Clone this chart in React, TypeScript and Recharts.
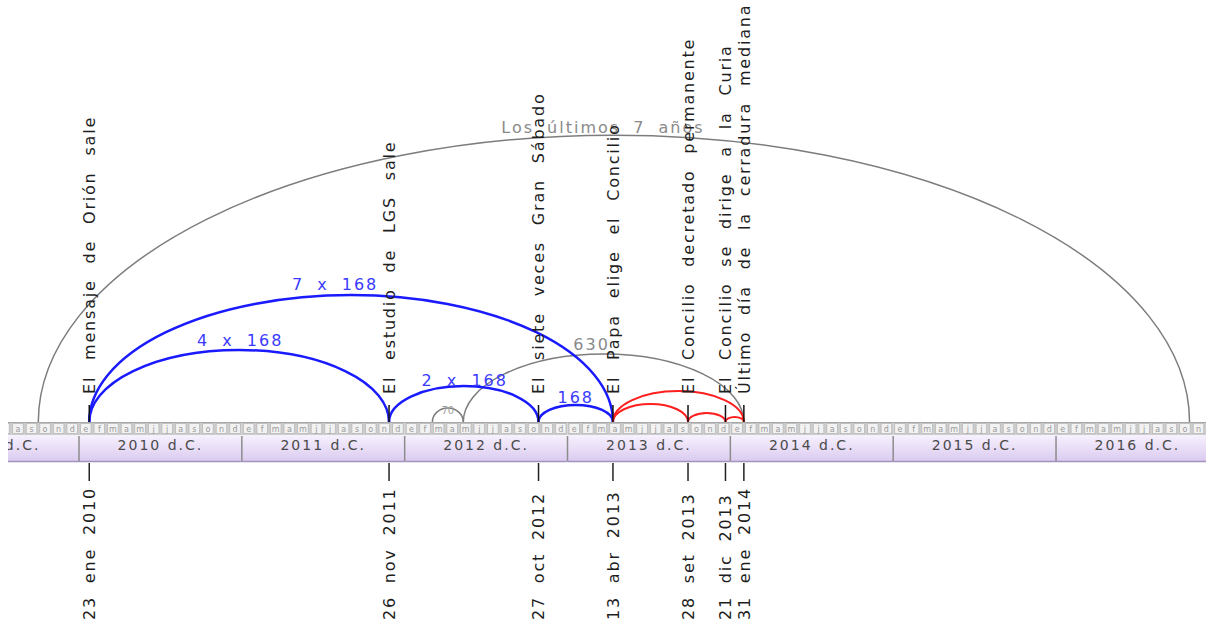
import React from 'react';
import { ComposedChart, ReferenceArea, ReferenceLine, Scatter, XAxis, YAxis } from 'recharts';

// years shown on the timeline band
const yearStarts = [2009, 2010, 2011, 2012, 2013, 2014, 2015, 2016];
const yearNames = ['2009 d.C.', '2010 d.C.', '2011 d.C.', '2012 d.C.', '2013 d.C.', '2014 d.C.', '2015 d.C.', '2016 d.C.'];
const monthInitials = ['e', 'f', 'm', 'a', 'm', 'j', 'j', 'a', 's', 'o', 'n', 'd'];

// events (decimal years)
const eventDates = [2010.063, 2011.904, 2012.822, 2013.279, 2013.74, 2013.97, 2014.083];
const eventTitles = [
  'El mensaje de Orión sale',
  'El estudio de LGS sale',
  'El siete veces Gran Sábado',
  'El Papa elige el Concilio',
  'El Concilio decretado permanente',
  'El Concilio se dirige a la Curia',
  'Último día de la cerradura mediana',
];
const eventDayLabels = ['23 ene 2010', '26 nov 2011', '27 oct 2012', '13 abr 2013', '28 set 2013', '21 dic 2013', '31 ene 2014'];

// arcs: from / to in decimal years, rise = height above the band
const greyArcs = [
  { from: 2009.75, to: 2016.82, rise: 287, label: 'Los últimos 7 años' },
  { from: 2012.36, to: 2014.083, rise: 68, label: '630' },
  { from: 2012.17, to: 2012.36, rise: 14, label: '70' },
];
const blueArcs = [
  { from: 2010.063, to: 2013.279, rise: 127, label: '7 x 168' },
  { from: 2010.063, to: 2011.904, rise: 72, label: '4 x 168' },
  { from: 2011.904, to: 2012.822, rise: 36, label: '2 x 168' },
  { from: 2012.822, to: 2013.279, rise: 17, label: '168' },
];
const redArcs = [
  { from: 2013.279, to: 2014.083, rise: 31, label: '' },
  { from: 2013.279, to: 2013.74, rise: 18, label: '' },
  { from: 2013.74, to: 2013.97, rise: 9, label: '' },
  { from: 2013.97, to: 2014.083, rise: 5, label: '' },
];

// label nudges (px) relative to the arc apex
const labelNudge: Record<string, [number, number]> = {
  'Los últimos 7 años': [-11, -2],
  '630': [-12, -4],
  '70': [0, 6],
  '7 x 168': [-16, -5],
  '4 x 168': [1, -4],
  '2 x 168': [1, 0],
  '168': [0, -2],
};

const FONT = '"DejaVu Sans", Verdana, sans-serif';

const eventRows = eventDates.map((d, i) => ({ x: d, y: 0, title: eventTitles[i], when: eventDayLabels[i] }));

type ArcLook = { stroke: string; width: number; text: string; size: number };

const arcShape = (label: string, look: ArcLook) => (p: any) => {
  const { x1, y1, x2, y2 } = p;
  const rx = Math.abs(x2 - x1) / 2;
  const ry = Math.abs(y2 - y1);
  const [dx, dy] = labelNudge[label] || [0, 0];
  const small = label === '70';
  return (
    <g>
      <path d={`M ${x1} ${y2} A ${rx} ${ry} 0 0 1 ${x2} ${y2}`} fill="none" stroke={look.stroke} strokeWidth={look.width} />
      {label ? (
        <text
          x={(x1 + x2) / 2 + dx}
          y={y1 + dy}
          textAnchor="middle"
          fill={small ? '#a0a0a0' : look.text}
          fontSize={small ? 10 : look.size}
          fontFamily={FONT}
          letterSpacing={small ? 0 : 2}
          wordSpacing={6}
        >
          {label}
        </text>
      ) : null}
    </g>
  );
};

const yearShape = (name: string) => (p: any) => {
  const { x, y, width, height, clipPath } = p;
  return (
    <g clipPath={clipPath}>
      <rect x={x} y={y} width={width} height={13} fill="#cdcdcd" />
      <rect x={x} y={y + 13} width={width} height={height - 13} fill="url(#bandFill)" />
      <line x1={x} x2={x + width} y1={y + 0.5} y2={y + 0.5} stroke="#a8a8a8" />
      <line x1={x} x2={x + width} y1={y + height - 0.5} y2={y + height - 0.5} stroke="#a293bd" strokeWidth={1.5} />
      <line x1={x} x2={x} y1={y + 14} y2={y + height - 1} stroke="#8c8c8c" strokeWidth={1.5} />
      <text
        x={x + width / 2}
        y={y + 28}
        textAnchor="middle"
        fill="#4a4a4a"
        fontSize={14}
        fontFamily={FONT}
        letterSpacing={2}
      >
        {name}
      </text>
    </g>
  );
};

const monthShape = (letter: string) => (p: any) => {
  const { x, y, width, height, clipPath } = p;
  return (
    <g clipPath={clipPath}>
      <rect x={x + 1.5} y={y + 1.5} width={width - 3} height={height - 3} fill="#f2f2f2" stroke="#b9b9b9" strokeWidth={0.8} />
      <text x={x + width / 2} y={y + height / 2 + 3} textAnchor="middle" fill="#999" fontSize={8} fontFamily={FONT}>
        {letter}
      </text>
    </g>
  );
};

const EventMark = (p: any) => {
  const { cx, cy, payload } = p;
  return (
    <g>
      <line x1={cx} x2={cx} y1={cy - 17} y2={cy} stroke="#111" strokeWidth={1.5} />
      <line x1={cx} x2={cx} y1={cy + 41} y2={cy + 59} stroke="#222" strokeWidth={1.5} />
      <text
        transform={`translate(${cx},${cy - 28}) rotate(-90)`}
        dy="0.36em"
        fill="#1e1e1e"
        fontSize={16}
        fontFamily={FONT}
        letterSpacing={1.8}
        wordSpacing={9}
      >
        {payload.title}
      </text>
      <text
        transform={`translate(${cx},${cy + 198}) rotate(-90)`}
        dy="0.36em"
        fill="#1e1e1e"
        fontSize={16}
        fontFamily={FONT}
        letterSpacing={1.8}
        wordSpacing={6}
      >
        {payload.when}
      </text>
    </g>
  );
};

const greyLook: ArcLook = { stroke: '#7d7d7d', width: 1.5, text: '#8a8a8a', size: 16 };
const blueLook: ArcLook = { stroke: '#1a1aff', width: 2.5, text: '#3a3aff', size: 16 };
const redLook: ArcLook = { stroke: '#ff1f1f', width: 2, text: '#ff1f1f', size: 16 };

export default function App() {
  return (
    <div style={{ position: 'absolute', left: 0, top: 0, width: 1206, height: 624, background: '#fff' }}>
      <ComposedChart width={1206} height={624} data={eventRows} margin={{ top: 0, right: 0, bottom: 0, left: 8 }}>
        <defs>
          <linearGradient id="bandFill" x1="0" y1="0" x2="0" y2="1">
            <stop offset="0%" stopColor="#f7f1fd" />
            <stop offset="100%" stopColor="#dacaf0" />
          </linearGradient>
        </defs>
        <XAxis type="number" dataKey="x" domain={[2009.564, 2016.921]} hide />
        <YAxis type="number" dataKey="y" domain={[-202, 422]} hide />

        {yearStarts.map((yr, i) => (
          <ReferenceArea
            key={`yr-${yr}`}
            x1={yr}
            x2={yr + 1}
            y1={0}
            y2={-40}
            ifOverflow="hidden"
            shape={yearShape(yearNames[i])}
          />
        ))}
        {yearStarts.flatMap((yr) =>
          monthInitials.map((m, k) => (
            <ReferenceArea
              key={`m-${yr}-${k}`}
              x1={yr + k / 12}
              x2={yr + (k + 1) / 12}
              y1={0}
              y2={-13}
              ifOverflow="hidden"
              shape={monthShape(m)}
            />
          ))
        )}

        {greyArcs.map((a, i) => (
          <ReferenceLine
            key={`g-${i}`}
            segment={[{ x: a.from, y: a.rise }, { x: a.to, y: 0 }]}
            ifOverflow="visible"
            shape={arcShape(a.label, greyLook)}
          />
        ))}
        {blueArcs.map((a, i) => (
          <ReferenceLine
            key={`b-${i}`}
            segment={[{ x: a.from, y: a.rise }, { x: a.to, y: 0 }]}
            ifOverflow="visible"
            shape={arcShape(a.label, blueLook)}
          />
        ))}
        {redArcs.map((a, i) => (
          <ReferenceLine
            key={`r-${i}`}
            segment={[{ x: a.from, y: a.rise }, { x: a.to, y: 0 }]}
            ifOverflow="visible"
            shape={arcShape(a.label, redLook)}
          />
        ))}

        <Scatter dataKey="y" isAnimationActive={false} shape={(p: any) => <EventMark {...p} />} />
      </ComposedChart>
    </div>
  );
}
